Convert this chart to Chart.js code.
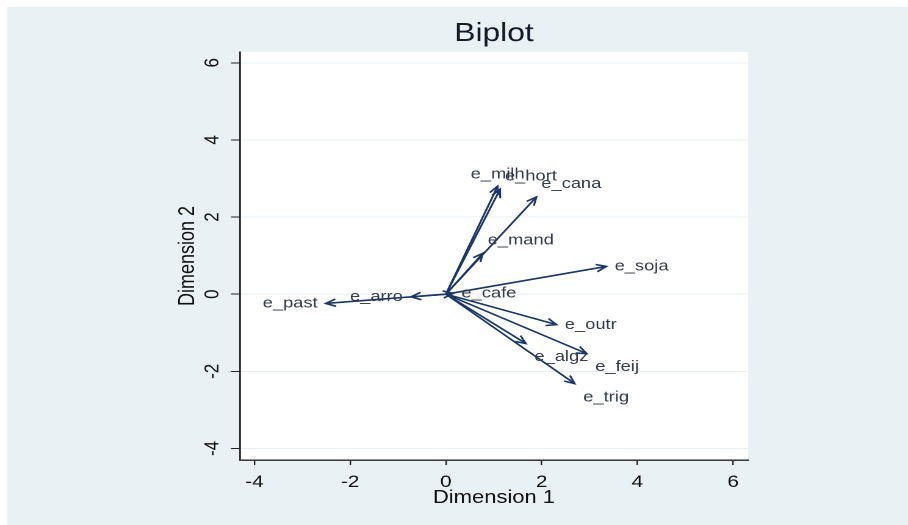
<!DOCTYPE html>
<html>
<head>
<meta charset="utf-8">
<script src="https://cdn.jsdelivr.net/npm/chart.js@4.4.1/dist/chart.umd.min.js"></script>
<style>
  html, body { margin: 0; padding: 0; background: #fff; overflow: hidden; }
  /* the source picture is stretched sideways, so the chart is drawn narrower and widened */
  #wrap { width: 744px; height: 525px; transform: scaleX(1.2204); transform-origin: 0 0; }
</style>
</head>
<body>
<div id="wrap"><canvas id="myChart" width="744" height="525"></canvas></div>
<script>
const varNames = ['e_past', 'e_arro', 'e_cafe', 'e_milh', 'e_hort', 'e_cana', 'e_mand', 'e_soja', 'e_outr', 'e_algz', 'e_feij', 'e_trig'];
const dim1 = [-2.51, -0.73, 0.15, 1.08, 1.13, 1.89, 0.77, 3.35, 2.31, 1.67, 2.94, 2.69];
const dim2 = [-0.24, -0.07, 0.02, 2.80, 2.72, 2.52, 1.06, 0.72, -0.79, -1.28, -1.54, -2.32];
const xTickVals = [-4, -2, 0, 2, 4, 6];
const yTickVals = [-4, -2, 0, 2, 4, 6];

const NAVY = '#1a3766';
const FONT = '"Liberation Sans", Arial, sans-serif';

// background: white edge, bluish-gray graph region, white plot region
const bgPlugin = {
  id: 'bg',
  beforeDraw(chart) {
    const {ctx, chartArea: a, width, height} = chart;
    ctx.save();
    ctx.fillStyle = '#ffffff';
    ctx.fillRect(0, 0, width, height);
    ctx.fillStyle = '#eaf1f4';
    ctx.fillRect(5.7, 7, width, height);
    ctx.fillStyle = '#ffffff';
    ctx.fillRect(a.left, a.top, a.right - a.left, a.bottom - a.top);
    ctx.restore();
  }
};

// arrow heads + variable labels, label side picked from the arrow angle
const arrowPlugin = {
  id: 'arrows',
  afterDatasetsDraw(chart) {
    const ctx = chart.ctx;
    ctx.save();
    chart.data.datasets.forEach((ds, i) => {
      const meta = chart.getDatasetMeta(i);
      const p0 = meta.data[0], p1 = meta.data[1];
      const ang = Math.atan2(p1.y - p0.y, p1.x - p0.x);
      const len = 9, spread = 0.42;
      ctx.strokeStyle = NAVY;
      ctx.lineWidth = 1.6;
      ctx.lineJoin = 'miter';
      ctx.beginPath();
      ctx.moveTo(p1.x - len * Math.cos(ang - spread), p1.y - len * Math.sin(ang - spread));
      ctx.lineTo(p1.x, p1.y);
      ctx.lineTo(p1.x - len * Math.cos(ang + spread), p1.y - len * Math.sin(ang + spread));
      ctx.stroke();

      const deg = Math.atan2(dim2[i], dim1[i]) * 180 / Math.PI;
      let dx = 0, dy = 0, align = 'left';
      if (deg > -22.5 && deg <= 22.5) { dx = 6.8; }
      else if (deg > 22.5 && deg <= 67.5) { dx = 4; dy = -13; }
      else if (deg > 67.5 && deg <= 112.5) { align = 'center'; dy = -12; }
      else if (deg > 112.5 && deg <= 157.5) { align = 'right'; dx = -4; dy = -13; }
      else if (deg > 157.5 || deg <= -157.5) { align = 'right'; dx = -6.6; }
      else if (deg > -157.5 && deg <= -112.5) { align = 'right'; dx = -7; dy = 13.5; }
      else if (deg > -112.5 && deg <= -67.5) { align = 'center'; dy = 13; }
      else { dx = 7; dy = 13.5; }
      ctx.font = '15px ' + FONT;
      ctx.fillStyle = '#343b4a';
      ctx.textAlign = align;
      ctx.textBaseline = 'middle';
      ctx.fillText(ds.label, p1.x + dx, p1.y + dy);
    });
    ctx.restore();
  },
  afterDraw(chart) {
    const {ctx, chartArea: a} = chart;
    const ys = chart.scales.y;
    ctx.save();
    ctx.fillStyle = '#111111';
    ctx.font = '17px ' + FONT;
    ctx.textAlign = 'center';
    ctx.textBaseline = 'middle';
    yTickVals.forEach(v => {
      ctx.save();
      ctx.translate(ys.right - 22.2, ys.getPixelForValue(v));
      ctx.rotate(-Math.PI / 2);
      ctx.fillText(String(v), 0, 0);
      ctx.restore();
    });
    ctx.fillStyle = '#151a28';
    ctx.font = '26px ' + FONT;
    ctx.fillText('Biplot', (a.left + a.right) / 2, 34);
    ctx.restore();
  }
};

const datasets = varNames.map((name, i) => ({
  label: name,
  data: [{x: 0, y: 0}, {x: dim1[i], y: dim2[i]}],
  showLine: true,
  borderColor: NAVY,
  borderWidth: 1.6,
  pointRadius: 0,
  pointHoverRadius: 0
}));

const myChart = new Chart(document.getElementById('myChart').getContext('2d'), {
  type: 'scatter',
  data: { datasets: datasets },
  options: {
    responsive: false,
    animation: false,
    devicePixelRatio: 2,
    layout: { padding: { left: 140, right: 131.1, top: 52, bottom: 0 } },
    plugins: {
      legend: { display: false },
      tooltip: { enabled: false }
    },
    scales: {
      x: {
        type: 'linear',
        min: -4.3,
        max: 6.31,
        afterBuildTicks: s => { s.ticks = xTickVals.map(v => ({value: v})); },
        afterFit: s => { s.height = 65; },
        grid: { drawOnChartArea: false, drawTicks: true, tickLength: 5, tickColor: '#222', color: '#222', lineWidth: 1.2 },
        border: { display: true, color: '#222', width: 1.4 },
        ticks: { color: '#111', font: { family: FONT, size: 17 }, padding: 7, maxRotation: 0 },
        title: { display: true, text: 'Dimension 1', color: '#111', font: { family: FONT, size: 18 }, padding: { top: 0, bottom: 16 } }
      },
      y: {
        type: 'linear',
        min: -4.3,
        max: 6.28,
        afterBuildTicks: s => { s.ticks = yTickVals.map(v => ({value: v})); },
        afterFit: s => { s.width = 56.7; },
        grid: { color: '#e8f0f3', lineWidth: 1, drawTicks: true, tickLength: 7.4, tickColor: '#222' },
        border: { display: true, color: '#222', width: 1.4 },
        ticks: { display: false },
        title: { display: true, text: 'Dimension 2', color: '#111', font: { family: FONT, size: 18 }, padding: { top: 3.2, bottom: 0 } }
      }
    }
  },
  plugins: [bgPlugin, arrowPlugin]
});
</script>
</body>
</html>
